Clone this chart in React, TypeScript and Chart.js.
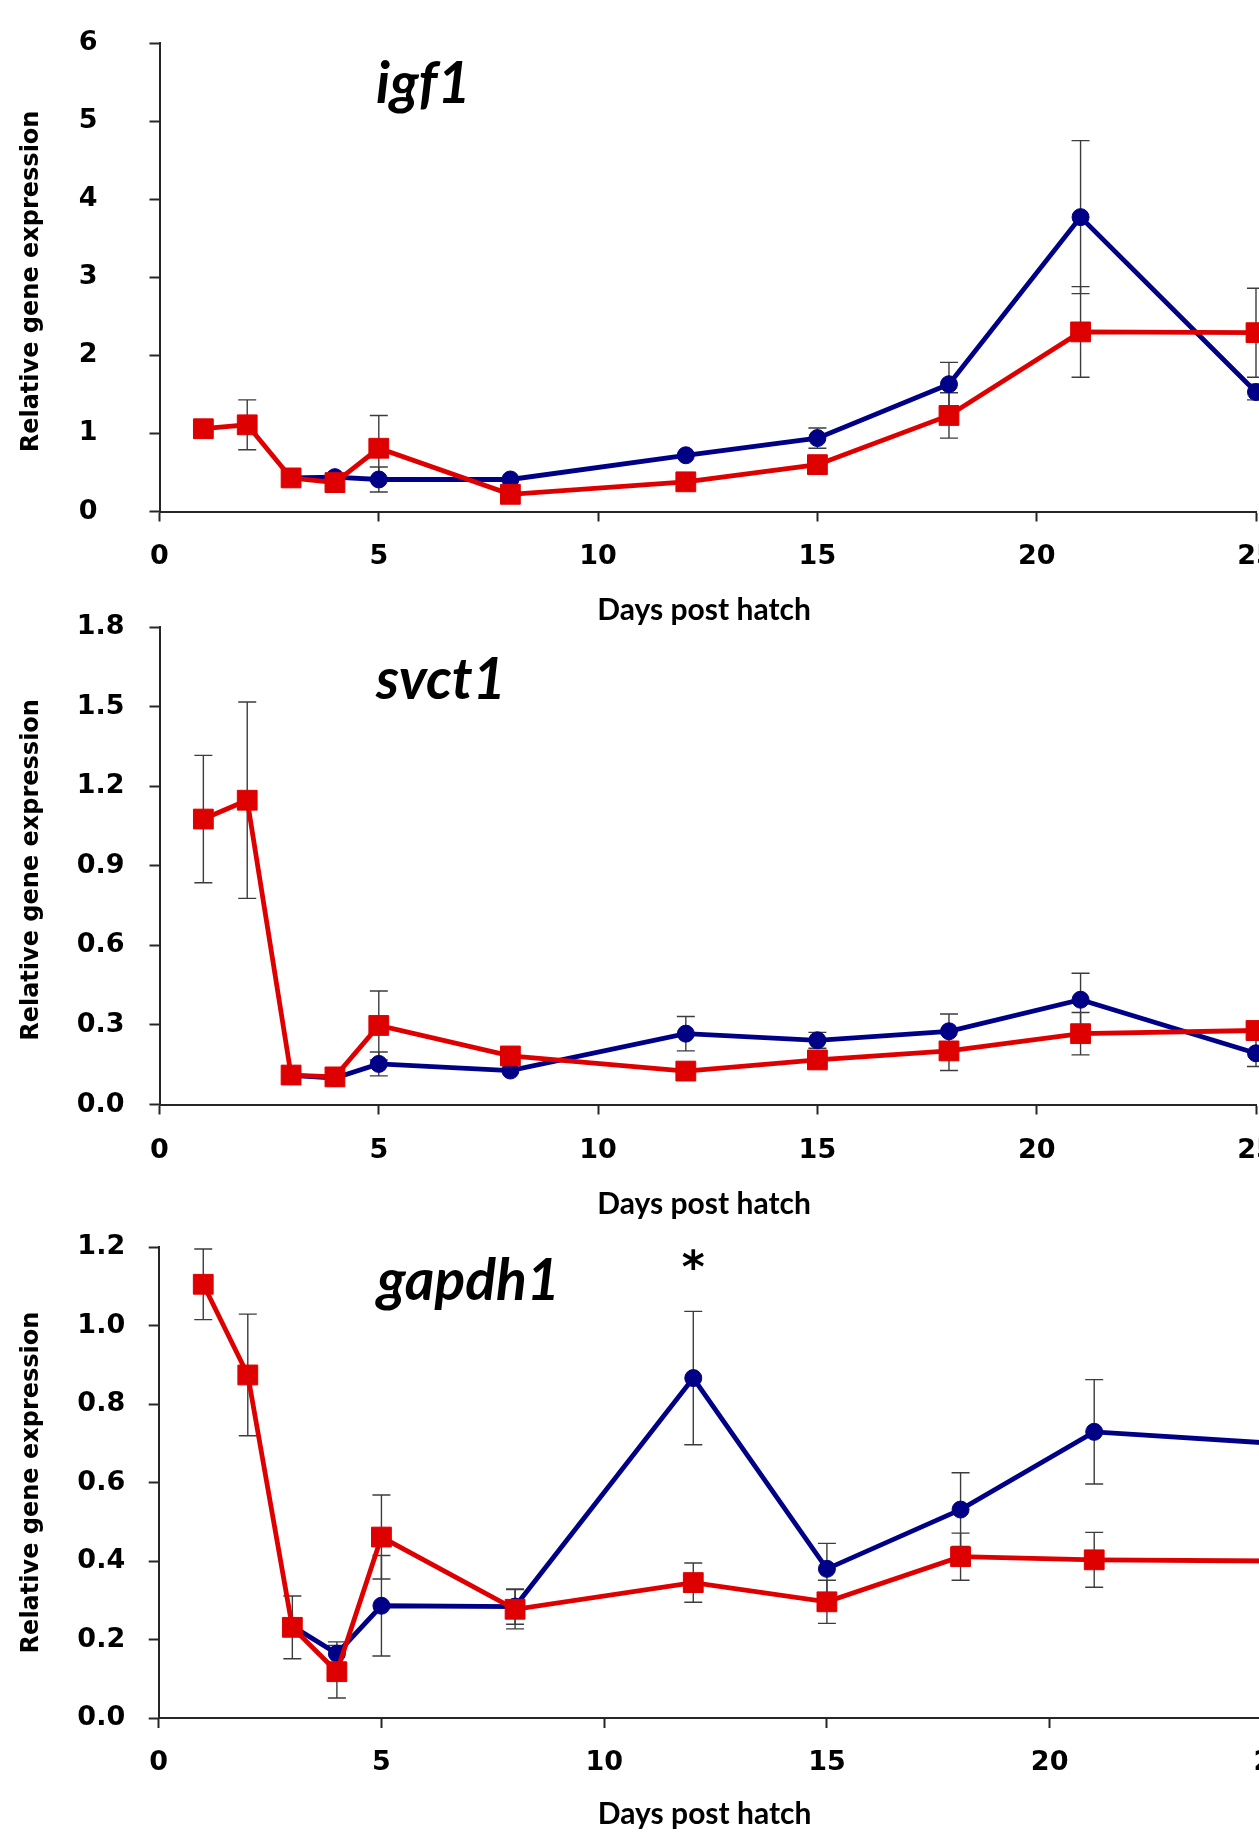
import React, { useEffect, useRef } from "react";
import { Chart, registerables } from "chart.js";

Chart.register(...registerables);

// ---------------- data ----------------
const DAYS = [1, 2, 3, 4, 5, 8, 12, 15, 18, 21, 25];

const IGF1_RED = [1.06, 1.11, 0.43, 0.37, 0.81, 0.22, 0.38, 0.6, 1.23, 2.3, 2.29];
const IGF1_RED_ERR = [0, 0.32, 0, 0, 0.42, 0, 0, 0, 0.29, 0.58, 0.57];
const IGF1_BLUE = [null, null, 0.43, 0.44, 0.41, 0.41, 0.72, 0.94, 1.63, 3.77, 1.53];
const IGF1_BLUE_ERR = [0, 0, 0, 0, 0.16, 0, 0, 0.13, 0.28, 0.98, 0.1];

const SVCT1_RED = [1.076, 1.147, 0.111, 0.104, 0.298, 0.183, 0.126, 0.168, 0.202, 0.267, 0.279];
const SVCT1_RED_ERR = [0.24, 0.37, 0, 0, 0.13, 0, 0, 0, 0.074, 0.08, 0];
const SVCT1_BLUE = [null, null, 0.11, 0.1, 0.153, 0.128, 0.267, 0.242, 0.276, 0.395, 0.193];
const SVCT1_BLUE_ERR = [0, 0, 0, 0, 0.045, 0, 0.065, 0.03, 0.065, 0.1, 0.05];

const GAPDH1_RED = [1.105, 0.874, 0.231, 0.118, 0.461, 0.277, 0.345, 0.296, 0.411, 0.403, 0.4];
const GAPDH1_RED_ERR = [0.09, 0.155, 0.08, 0.067, 0.107, 0.05, 0.05, 0.055, 0.06, 0.07, 0];
const GAPDH1_BLUE = [null, null, 0.234, 0.164, 0.286, 0.284, 0.866, 0.38, 0.531, 0.729, 0.7];
const GAPDH1_BLUE_ERR = [0, 0, 0, 0.03, 0.128, 0.045, 0.17, 0.065, 0.094, 0.133, 0];

const GENE_NAMES = ["igf1", "svct1", "gapdh1"];
const Y_MAXES = [6, 1.8, 1.2];
const Y_STEPS = [1, 0.3, 0.2];
const Y_DECIMALS = [0, 1, 1];
const X_MAX = 25;
const X_STEP = 5;
const X_TITLE = "Days post hatch";
const Y_TITLE = "Relative gene expression";
const STAR = { panel: 2, day: 12, value: 1.14, text: "*" };

const SERIES = [
  { red: IGF1_RED, redErr: IGF1_RED_ERR, blue: IGF1_BLUE, blueErr: IGF1_BLUE_ERR },
  { red: SVCT1_RED, redErr: SVCT1_RED_ERR, blue: SVCT1_BLUE, blueErr: SVCT1_BLUE_ERR },
  { red: GAPDH1_RED, redErr: GAPDH1_RED_ERR, blue: GAPDH1_BLUE, blueErr: GAPDH1_BLUE_ERR },
];

// ---------------- styles / layout ----------------
const RED = "rgb(222,0,0)";
const BLUE = "rgb(0,0,135)";
const AXIS = "#262626";
const ERR = "#3c3c3c";
const TICK_FONT = { family: "'DejaVu Sans'", weight: "bold" as const, size: 27 };
const Y_TITLE_FONT = { family: "'DejaVu Sans'", weight: "bold" as const, size: 24, lineHeight: 1.2 };
const X_TITLE_FONT = { family: "Lato", weight: "bold" as const, size: 30, lineHeight: 1.2 };

const LAYOUT = [
  { canvasTop: -60, canvasH: 700, canvasW: 1300, top: 43, bottom: 511.5, left: 159.5, right: 1256, yPad: 52, xPad: 19.5, xTitleY: 610, ySpaces: 1, xSpaces: 1, nameX: 376, nameY: 103 },
  { canvasTop: 560, canvasH: 680, canvasW: 1300, top: 627, bottom: 1104.5, left: 159.5, right: 1256, yPad: 25, xPad: 20.5, xTitleY: 1204, ySpaces: 1, xSpaces: 1, nameX: 376, nameY: 699 },
  { canvasTop: 1180, canvasH: 652, canvasW: 1330, top: 1247, bottom: 1718, left: 158.7, right: 1272.4, yPad: 23.5, xPad: 18.5, xTitleY: 1815.2, ySpaces: 0, xSpaces: 3, nameX: 377, nameY: 1300 },
];

function makeErrorPlugin(sets: { values: (number | null)[]; errors: number[] }[]) {
  return {
    id: "errorBars",
    beforeDatasetsDraw(chart: any) {
      const { ctx } = chart;
      const xs = chart.scales.x;
      const ys = chart.scales.y;
      ctx.save();
      ctx.strokeStyle = ERR;
      ctx.lineWidth = 1.4;
      sets.forEach((set) => {
        set.values.forEach((v, j) => {
          const e = set.errors[j];
          if (v == null || !e) return;
          const x = xs.getPixelForValue(DAYS[j]);
          const yt = ys.getPixelForValue(v + e);
          const yb = ys.getPixelForValue(v - e);
          ctx.beginPath();
          ctx.moveTo(x, yt);
          ctx.lineTo(x, yb);
          ctx.moveTo(x - 9, yt);
          ctx.lineTo(x + 9, yt);
          ctx.moveTo(x - 9, yb);
          ctx.lineTo(x + 9, yb);
          ctx.stroke();
        });
      });
      ctx.restore();
    },
  };
}

function makeTextPlugin(i: number) {
  const L = LAYOUT[i];
  return {
    id: "panelText",
    afterDraw(chart: any) {
      const { ctx } = chart;
      ctx.save();
      ctx.fillStyle = "#000";
      ctx.font = "italic bold 57px Lato";
      ctx.textAlign = "left";
      ctx.textBaseline = "alphabetic";
      ctx.fillText(GENE_NAMES[i], L.nameX, L.nameY - L.canvasTop);
      if (STAR.panel === i) {
        const x = chart.scales.x.getPixelForValue(STAR.day);
        const y = chart.scales.y.getPixelForValue(STAR.value);
        ctx.font = "bold 44px 'DejaVu Sans'";
        ctx.textAlign = "center";
        ctx.textBaseline = "middle";
        ctx.fillText(STAR.text, x, y);
      }
      ctx.restore();
    },
  };
}

function buildConfig(i: number): any {
  const L = LAYOUT[i];
  const S = SERIES[i];
  const canvasBottom = L.canvasTop + L.canvasH;
  const xScaleH = canvasBottom - L.bottom;
  const xLh = X_TITLE_FONT.size * X_TITLE_FONT.lineHeight;
  const xTitlePadBottom = Math.max(0, canvasBottom - L.xTitleY - xLh / 2);
  const yLh = Y_TITLE_FONT.size * Y_TITLE_FONT.lineHeight;
  const yTitlePadTop = 31.5 - yLh / 2;
  const decimals = Y_DECIMALS[i];

  return {
    type: "line",
    data: {
      datasets: [
        {
          label: "red",
          data: DAYS.map((d, j) => ({ x: d, y: S.red[j] })),
          borderColor: RED,
          backgroundColor: RED,
          borderWidth: 4.8,
          pointStyle: "rect",
          pointRadius: 14,
          pointHoverRadius: 14,
          pointBorderWidth: 1,
          pointBackgroundColor: RED,
          pointBorderColor: RED,
          tension: 0,
          clip: false,
        },
        {
          label: "blue",
          data: DAYS.map((d, j) => ({ x: d, y: S.blue[j] })),
          borderColor: BLUE,
          backgroundColor: BLUE,
          borderWidth: 4.8,
          pointStyle: "circle",
          pointRadius: 8.5,
          pointHoverRadius: 8.5,
          pointBorderWidth: 1,
          pointBackgroundColor: BLUE,
          pointBorderColor: BLUE,
          tension: 0,
          clip: false,
        },
      ],
    },
    options: {
      animation: false,
      responsive: false,
      devicePixelRatio: 1,
      events: [],
      layout: {
        padding: { top: L.top - L.canvasTop, left: 0, right: L.canvasW - L.right, bottom: 0 },
      },
      plugins: {
        legend: { display: false },
        tooltip: { enabled: false },
        title: { display: false },
      },
      scales: {
        x: {
          type: "linear",
          min: 0,
          max: X_MAX,
          afterFit: (s: any) => {
            s.height = xScaleH;
          },
          ticks: {
            stepSize: X_STEP,
            color: "#000",
            font: TICK_FONT,
            padding: L.xPad,
            maxRotation: 0,
            autoSkip: false,
          },
          grid: {
            drawOnChartArea: false,
            drawTicks: true,
            tickLength: 10,
            tickColor: AXIS,
            tickWidth: 2,
          },
          border: { display: true, color: AXIS, width: 2 },
          title: {
            display: true,
            text: X_TITLE + " ".repeat(L.xSpaces),
            color: "#000",
            font: X_TITLE_FONT,
            padding: { top: 0, bottom: xTitlePadBottom },
          },
        },
        y: {
          type: "linear",
          min: 0,
          max: Y_MAXES[i],
          afterFit: (s: any) => {
            s.width = L.left;
          },
          ticks: {
            stepSize: Y_STEPS[i],
            color: "#000",
            font: TICK_FONT,
            padding: L.yPad,
            callback: (v: any) => Number(v).toFixed(decimals),
          },
          grid: {
            drawOnChartArea: false,
            drawTicks: true,
            tickLength: 10,
            tickColor: AXIS,
            tickWidth: 2,
          },
          border: { display: true, color: AXIS, width: 2 },
          title: {
            display: true,
            text: Y_TITLE + " ".repeat(L.ySpaces),
            color: "#000",
            font: Y_TITLE_FONT,
            padding: { top: yTitlePadTop, bottom: 0 },
          },
        },
      },
    },
    plugins: [
      makeErrorPlugin([
        { values: S.red, errors: S.redErr },
        { values: S.blue, errors: S.blueErr },
      ]),
      makeTextPlugin(i),
    ],
  };
}

export default function App() {
  const refs = useRef<(HTMLCanvasElement | null)[]>([]);

  useEffect(() => {
    const charts = LAYOUT.map((_, i) => new Chart(refs.current[i] as HTMLCanvasElement, buildConfig(i)));
    return () => {
      charts.forEach((c) => c.destroy());
    };
  }, []);

  return (
    <div
      style={{
        position: "absolute",
        left: 0,
        top: 0,
        width: 1259,
        height: 1832,
        overflow: "hidden",
        background: "#fff",
      }}
    >
      {LAYOUT.map((L, i) => (
        <canvas
          key={i}
          ref={(el) => {
            refs.current[i] = el;
          }}
          width={L.canvasW}
          height={L.canvasH}
          style={{
            position: "absolute",
            left: 0,
            top: L.canvasTop,
            width: L.canvasW,
            height: L.canvasH,
          }}
        />
      ))}
    </div>
  );
}
